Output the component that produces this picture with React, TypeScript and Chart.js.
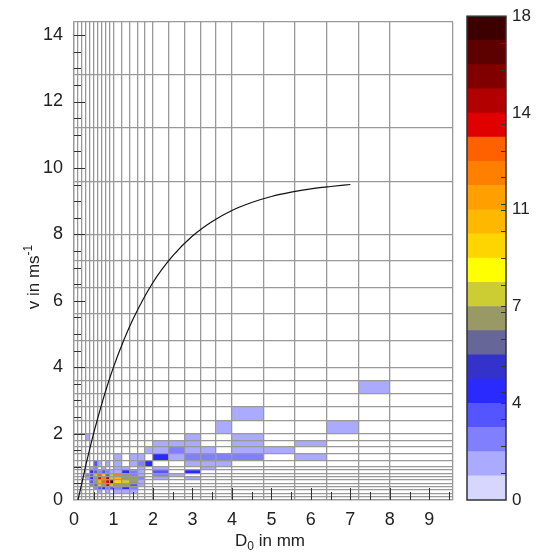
import React, { useEffect, useRef } from "react";
import { Chart, registerables } from "chart.js";

Chart.register(...registerables);

const FONT = '"Liberation Sans", Arial, Helvetica, sans-serif';
const GRID = "#999999";
const INK = "#222222";

// bin edges (diameter, velocity)
const dEdges = [0, 0.1, 0.2, 0.3, 0.4, 0.5, 0.6, 0.7, 0.8, 0.9, 1.0, 1.2, 1.4, 1.6, 1.8, 2.0, 2.4, 2.8, 3.2, 3.6, 4.0, 4.8, 5.6, 6.4, 7.2, 8.0, 9.6];
const vEdges = [0, 0.1, 0.2, 0.3, 0.4, 0.5, 0.6, 0.7, 0.8, 0.9, 1.0, 1.2, 1.4, 1.6, 1.8, 2.0, 2.4, 2.8, 3.2, 3.6, 4.0, 4.8, 5.6, 6.4, 7.2, 8.0, 9.6, 11.2, 12.8, 14.4];

// tick labels
const dLabels = [0, 1, 2, 3, 4, 5, 6, 7, 8, 9];
const vLabels = [0, 2, 4, 6, 8, 10, 12, 14];
const dTickMarks = [0.5, 1, 1.5, 2, 2.5, 3, 3.5, 4, 4.5, 5, 5.5, 6, 6.5, 7, 7.5, 8, 8.5, 9, 9.5];
const vTickMarks = [0.5, 1, 1.5, 2, 2.5, 3, 3.5, 4, 4.5, 5, 5.5, 6, 6.5, 7, 7.5, 8, 8.5, 9, 9.5, 10, 10.5, 11, 11.5, 12, 12.5, 13, 13.5, 14];

// histogram cells: lower D edge, lower v edge, count
const cellD = [
  7.2,
  4.0,
  3.6, 6.4,
  0.3, 2.8, 4.0,
  2.0, 2.4, 2.8, 4.0, 5.6,
  1.8, 2.0, 2.4, 2.8, 3.2, 4.0, 4.8,
  1.0, 1.4, 1.6, 2.0, 2.4, 2.8, 3.2, 3.6, 4.0, 5.6,
  0.5, 0.6, 0.8, 1.0, 1.4, 1.6, 1.8, 2.8, 3.2, 3.6,
  0.4, 0.5, 0.7, 1.0, 1.2, 1.6, 2.0, 3.2,
  0.4, 0.5, 0.6, 0.7, 0.8, 0.9, 1.0, 1.2, 1.4, 1.6, 2.0, 2.8,
  0.3, 0.4, 0.5, 0.6, 0.7, 0.8, 0.9, 1.0, 1.2, 1.4, 1.6, 2.0, 2.4,
  0.3, 0.4, 0.5, 0.6, 0.7, 0.8, 0.9, 1.0, 1.2, 1.4, 1.6, 2.0, 2.8,
  0.4, 0.5, 0.6, 0.7, 0.8, 0.9, 1.0, 1.2, 1.4, 1.6,
  0.4, 0.5, 0.6, 0.7, 0.8, 0.9, 1.0, 1.2, 1.4, 1.6,
  0.5, 0.6, 0.7, 0.8, 0.9, 1.0, 1.2, 1.4,
  0.6, 0.8, 1.0, 1.2, 1.4,
];
const cellV = [
  3.2,
  2.4,
  2.0, 2.0,
  1.8, 1.8, 1.8,
  1.6, 1.6, 1.6, 1.6, 1.6,
  1.4, 1.4, 1.4, 1.4, 1.4, 1.4, 1.4,
  1.2, 1.2, 1.2, 1.2, 1.2, 1.2, 1.2, 1.2, 1.2, 1.2,
  1.0, 1.0, 1.0, 1.0, 1.0, 1.0, 1.0, 1.0, 1.0, 1.0,
  0.9, 0.9, 0.9, 0.9, 0.9, 0.9, 0.9, 0.9,
  0.8, 0.8, 0.8, 0.8, 0.8, 0.8, 0.8, 0.8, 0.8, 0.8, 0.8, 0.8,
  0.7, 0.7, 0.7, 0.7, 0.7, 0.7, 0.7, 0.7, 0.7, 0.7, 0.7, 0.7, 0.7,
  0.6, 0.6, 0.6, 0.6, 0.6, 0.6, 0.6, 0.6, 0.6, 0.6, 0.6, 0.6, 0.6,
  0.5, 0.5, 0.5, 0.5, 0.5, 0.5, 0.5, 0.5, 0.5, 0.5,
  0.4, 0.4, 0.4, 0.4, 0.4, 0.4, 0.4, 0.4, 0.4, 0.4,
  0.3, 0.3, 0.3, 0.3, 0.3, 0.3, 0.3, 0.3,
  0.2, 0.2, 0.2, 0.2, 0.2,
];
const cellN = [
  1,
  1,
  1, 1,
  1, 1, 1,
  1, 1, 1, 1, 1,
  1, 1, 2, 1, 1, 1, 1,
  1, 1, 1, 4, 1, 2, 2, 2, 2, 1,
  3, 1, 1, 1, 1, 2, 4, 1, 1, 1,
  1, 2, 1, 1, 1, 1, 1, 1,
  4, 6, 2, 3, 2, 1, 1, 4, 2, 1, 3, 4,
  2, 3, 8, 13, 9, 6, 8, 12, 7, 2, 1, 2, 1,
  1, 4, 7, 14, 12, 15, 8, 10, 7, 7, 2, 1, 1,
  3, 7, 10, 13, 14, 17.5, 9, 8, 7, 1,
  2, 6, 8, 7, 14, 8, 7, 7, 3, 1,
  2, 3, 4, 2, 3, 2, 4, 2,
  1, 1, 1, 1, 1,
];

// fall-velocity curve
const curveD = [0.1, 0.2, 0.3, 0.4, 0.5, 0.6, 0.8, 1.0, 1.25, 1.5, 2.0, 2.5, 3.0, 3.5, 4.0, 4.5, 5.0, 5.5, 6.0, 6.5, 7.0];
const curveV = [0.0, 0.51, 1.05, 1.55, 2.02, 2.46, 3.28, 4.0, 4.78, 5.46, 6.55, 7.35, 7.95, 8.39, 8.72, 8.96, 9.14, 9.27, 9.37, 9.44, 9.5];

// colour bar
const cbColors = [
  "#d6d6ff", "#aaaaff", "#8080ff", "#5555ff", "#2a2aff", "#3333cc", "#666699", "#999966", "#cccc33", "#ffff00",
  "#ffd500", "#ffb800", "#ff9f00", "#ff8000", "#ff6000", "#e00000", "#b00000", "#800000", "#5c0000", "#3c0000",
];
const cbBounds = [0, 0.9, 1.8, 2.7, 3.6, 4.5, 5.4, 6.3, 7.2, 8.1, 9.0, 9.9, 10.8, 11.7, 12.6, 13.5, 14.4, 15.3, 16.2, 17.1, 18];
const cbLabelValues = [0, 3.6, 7.2, 10.8, 14.4, 18];
const cbTickMarks = [1, 2, 3, 3.6, 4, 5, 6, 7, 7.2, 8, 9, 10, 10.8, 11, 12, 13, 14, 14.4, 15, 16, 17];

const isIn = (v: number, arr: number[]) => arr.some((e) => Math.abs(e - v) < 1e-9);
const union = (a: number[], b: number[]) => Array.from(new Set([...a, ...b])).sort((p, q) => p - q);

function colorFor(n: number) {
  for (let k = cbBounds.length - 2; k >= 0; k--) {
    if (n >= cbBounds[k]) return cbColors[k];
  }
  return cbColors[0];
}

type Seg = { t: string; size: number; dy?: number };
function drawRich(ctx: CanvasRenderingContext2D, segs: Seg[], x: number, y: number, rotate: boolean) {
  ctx.save();
  ctx.translate(x, y);
  if (rotate) ctx.rotate(-Math.PI / 2);
  let total = 0;
  for (const s of segs) {
    ctx.font = `${s.size}px ${FONT}`;
    total += ctx.measureText(s.t).width;
  }
  let cx = -total / 2;
  ctx.fillStyle = INK;
  ctx.textAlign = "left";
  ctx.textBaseline = "alphabetic";
  for (const s of segs) {
    ctx.font = `${s.size}px ${FONT}`;
    ctx.fillText(s.t, cx, s.dy || 0);
    cx += ctx.measureText(s.t).width;
  }
  ctx.restore();
}

const heatPlugin = {
  id: "heat",
  beforeDraw(chart: any) {
    const { ctx } = chart;
    const xs = chart.scales.x;
    const ys = chart.scales.y;
    ctx.save();
    for (let k = 0; k < cellN.length; k++) {
      const i = dEdges.indexOf(cellD[k]);
      const j = vEdges.indexOf(cellV[k]);
      if (i < 0 || j < 0) continue;
      const x1 = xs.getPixelForValue(dEdges[i]);
      const x2 = xs.getPixelForValue(dEdges[i + 1]);
      const y1 = ys.getPixelForValue(vEdges[j]);
      const y2 = ys.getPixelForValue(vEdges[j + 1]);
      ctx.fillStyle = colorFor(cellN[k]);
      ctx.fillRect(x1, y2, x2 - x1, y1 - y2);
    }
    ctx.restore();
  },
  afterDraw(chart: any) {
    const { ctx, chartArea } = chart;
    const xs = chart.scales.x;
    const ys = chart.scales.y;
    ctx.save();
    ctx.strokeStyle = "#333";
    ctx.lineWidth = 1;
    ctx.beginPath();
    for (const v of dTickMarks) {
      const px = Math.round(xs.getPixelForValue(v)) + 0.5;
      const len = isIn(v, dLabels) ? 12 : 8;
      ctx.moveTo(px, chartArea.bottom);
      ctx.lineTo(px, chartArea.bottom - len);
    }
    for (const v of vTickMarks) {
      const py = Math.round(ys.getPixelForValue(v)) + 0.5;
      const len = isIn(v, vLabels) ? 11 : 7;
      ctx.moveTo(chartArea.left, py);
      ctx.lineTo(chartArea.left + len, py);
    }
    ctx.stroke();
    ctx.restore();
    drawRich(ctx, [{ t: "D", size: 17 }, { t: "0", size: 12, dy: 4 }, { t: " in mm", size: 17 }], 270, 546, false);
    drawRich(ctx, [{ t: "v in ms", size: 17 }, { t: "-1", size: 12, dy: -7 }], 39, 277, true);
  },
};

const cbPlugin = {
  id: "cbframe",
  afterDraw(chart: any) {
    const { ctx, chartArea } = chart;
    const ys = chart.scales.y;
    ctx.save();
    ctx.strokeStyle = "#333";
    ctx.lineWidth = 1;
    ctx.beginPath();
    for (const v of cbTickMarks) {
      const py = Math.round(ys.getPixelForValue(v)) + 0.5;
      ctx.moveTo(chartArea.right - 5, py);
      ctx.lineTo(chartArea.right, py);
    }
    ctx.stroke();
    ctx.lineWidth = 1.5;
    ctx.strokeRect(chartArea.left, chartArea.top, chartArea.right - chartArea.left, chartArea.bottom - chartArea.top);
    ctx.restore();
  },
};

export default function App() {
  const mainRef = useRef<HTMLCanvasElement>(null);
  const cbRef = useRef<HTMLCanvasElement>(null);

  useEffect(() => {
    if (!mainRef.current || !cbRef.current) return;
    const xTicks = union(dEdges, dLabels);
    const yTicks = union(vEdges, vLabels);
    const tickFont = { family: FONT, size: 18 };

    const main = new Chart(mainRef.current, {
      type: "scatter",
      data: {
        datasets: [
          {
            data: curveD.map((d, k) => ({ x: d, y: curveV[k] })),
            showLine: true,
            borderColor: "#111",
            borderWidth: 1.2,
            pointRadius: 0,
            cubicInterpolationMode: "monotone",
          } as any,
        ],
      },
      options: {
        responsive: false,
        maintainAspectRatio: false,
        animation: false,
        layout: { padding: { left: 0, top: 16, right: 4, bottom: 0 } },
        plugins: { legend: { display: false }, tooltip: { enabled: false } },
        scales: {
          x: {
            type: "linear",
            min: 0,
            max: 9.6,
            afterBuildTicks: (s: any) => {
              s.ticks = xTicks.map((v) => ({ value: v }));
            },
            afterFit: (s: any) => {
              s.height = 54;
            },
            grid: {
              color: (c: any) => (c.tick && isIn(c.tick.value, dEdges) ? GRID : "rgba(0,0,0,0)"),
              lineWidth: 1.3,
              drawTicks: false,
            },
            border: { display: true, color: GRID, width: 1.3 },
            ticks: {
              autoSkip: false,
              maxRotation: 0,
              padding: 9,
              font: tickFont,
              color: INK,
              callback: (val: any) => (isIn(Number(val), dLabels) ? String(Math.round(Number(val))) : ""),
            },
          },
          y: {
            type: "linear",
            min: 0,
            max: 14.4,
            afterBuildTicks: (s: any) => {
              s.ticks = yTicks.map((v) => ({ value: v }));
            },
            afterFit: (s: any) => {
              s.width = 74;
            },
            grid: {
              color: (c: any) => (c.tick && isIn(c.tick.value, vEdges) ? GRID : "rgba(0,0,0,0)"),
              lineWidth: 1.3,
              drawTicks: false,
            },
            border: { display: true, color: GRID, width: 1.3 },
            ticks: {
              autoSkip: false,
              padding: 11,
              font: tickFont,
              color: INK,
              callback: (val: any) => (isIn(Number(val), vLabels) ? String(Math.round(Number(val))) : ""),
            },
          },
        },
      },
      plugins: [heatPlugin],
    });

    const cb = new Chart(cbRef.current, {
      type: "bar",
      data: {
        labels: [""],
        datasets: cbColors.map((c, k) => ({
          data: [[cbBounds[k], cbBounds[k + 1]]],
          backgroundColor: c,
          borderWidth: 0,
          barPercentage: 1,
          categoryPercentage: 1,
          grouped: false,
        })) as any,
      },
      options: {
        responsive: false,
        maintainAspectRatio: false,
        animation: false,
        layout: { padding: { left: 7, top: 15, right: 0, bottom: 54 } },
        plugins: { legend: { display: false }, tooltip: { enabled: false } },
        scales: {
          x: { display: false },
          y: {
            position: "right",
            min: 0,
            max: 18,
            afterBuildTicks: (s: any) => {
              s.ticks = cbLabelValues.map((v) => ({ value: v }));
            },
            afterFit: (s: any) => {
              s.width = 32;
            },
            grid: { display: false, drawTicks: false },
            border: { display: false },
            ticks: {
              padding: 6,
              font: { family: FONT, size: 17 },
              color: INK,
              callback: (val: any) => String(Math.round(Number(val))),
            },
          },
        },
      },
      plugins: [cbPlugin],
    });

    return () => {
      main.destroy();
      cb.destroy();
    };
  }, []);

  return (
    <div style={{ position: "fixed", left: 0, top: 0, width: 538, height: 554, background: "#fff" }}>
      <canvas ref={mainRef} width={462} height={554} style={{ position: "absolute", left: 0, top: 0, width: 462, height: 554 }} />
      <canvas ref={cbRef} width={78} height={554} style={{ position: "absolute", left: 460, top: 0, width: 78, height: 554 }} />
    </div>
  );
}
